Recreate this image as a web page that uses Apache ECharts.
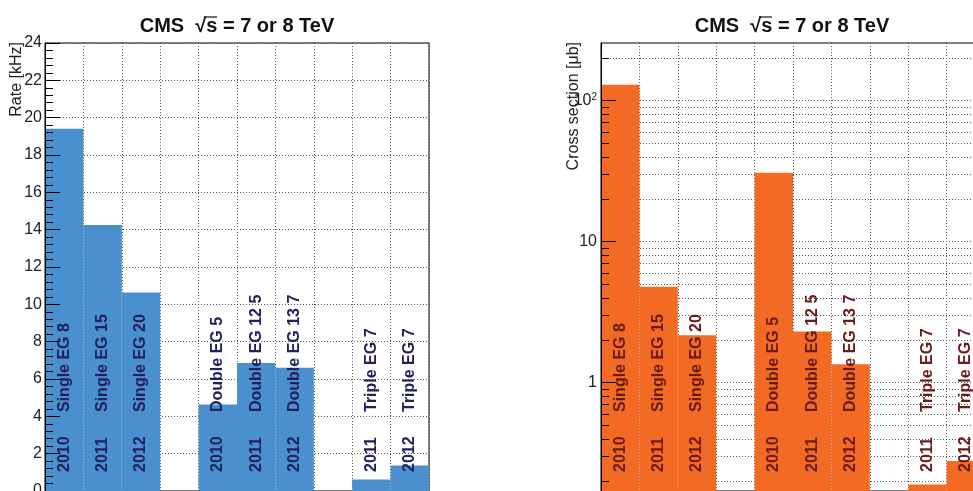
<!DOCTYPE html>
<html><head><meta charset="utf-8">
<script src="https://cdn.jsdelivr.net/npm/echarts@6/dist/echarts.min.js"></script>
<style>html,body{margin:0;padding:0;background:#fff}#c{width:973px;height:491px}</style>
</head><body><div id="c"></div>
<script>
const categories = ['Single EG 8 2010','Single EG 15 2011','Single EG 20 2012','gap1','Double EG 5 2010','Double EG 12 5 2011','Double EG 13 7 2012','gap2','Triple EG 7 2011','Triple EG 7 2012'];
const years = ['2010','2011','2012','','2010','2011','2012','','2011','2012'];
const triggers = ['Single EG 8','Single EG 15','Single EG 20','','Double EG 5','Double EG 12 5','Double EG 13 7','','Triple EG 7','Triple EG 7'];
const rates = [19.4, 14.25, 10.63, null, 4.64, 6.86, 6.6, null, 0.61, 1.36];
const xsecs = [129.8, 4.8, 2.17, null, 30.8, 2.31, 1.35, null, 0.19, 0.278];
const rateMin = 0, rateMax = 24, rateStep = 2;
const xsecMin = 0.1706, xsecMax = 256.5;
const xsecMajorTicks = [1, 10, 100];
const xsecMinorTicks = [0.2,0.3,0.4,0.5,0.6,0.7,0.8,0.9,2,3,4,5,6,7,8,9,20,30,40,50,60,70,80,90,200];
const titleText = 'CMS  \u221As = 7 or 8 TeV';

const FF = '"Liberation Sans", Arial, Helvetica, sans-serif';
const gridLine = {show: true, lineStyle: {color: '#555', width: 1, type: [1, 2]}};

function makeRender(fill, textColor, baseVal) {
  return function (params, api) {
    const v = api.value(1);
    if (v == null || isNaN(v)) return null;
    const i = api.value(0);
    const top = api.coord([i, v]);
    const base = api.coord([i, baseVal]);
    const w = api.size([1, 0])[0];
    const idx = params.dataIndex;
    const ts = {fill: textColor, fontSize: 16, fontWeight: 'bold', fontFamily: FF, align: 'left', verticalAlign: 'middle'};
    return {type: 'group', children: [
      {type: 'rect', shape: {x: top[0] - w / 2, y: top[1], width: w, height: base[1] - top[1]}, style: {fill: fill}},
      {type: 'text', x: base[0], y: base[1] - 19, rotation: Math.PI / 2, style: Object.assign({text: years[idx]}, ts)},
      {type: 'text', x: base[0], y: base[1] - 79, rotation: Math.PI / 2, style: Object.assign({text: triggers[idx]}, ts)}
    ]};
  };
}

const chart = echarts.init(document.getElementById('c'), null, {renderer: 'canvas'});
const hidden = {axisLine: {show: false}, axisTick: {show: false}, axisLabel: {show: false}, splitLine: {show: false}};

function titleGroup(cx) {
  return {type: 'group', x: cx, y: 26, z: 20, children: [
    {type: 'text', x: 0, y: 0, style: {text: titleText, fontSize: 20, fontWeight: 'bold', fontFamily: FF, fill: '#111', align: 'center', verticalAlign: 'middle'}},
    {type: 'line', shape: {x1: -33, y1: -9, x2: -20, y2: -9}, style: {stroke: '#111', lineWidth: 1.2}}
  ]};
}

chart.setOption({
  animation: false,
  backgroundColor: '#fff',
  grid: [
    {left: 45, top: 43, width: 384, bottom: 0, show: true, borderColor: '#000', borderWidth: 1, containLabel: false, outerBoundsMode: 'none'},
    {left: 601, top: 43, width: 384, bottom: 0, show: true, borderColor: '#000', borderWidth: 1, containLabel: false, outerBoundsMode: 'none'}
  ],
  xAxis: [
    Object.assign({}, hidden, {gridIndex: 0, type: 'category', data: categories, boundaryGap: true, splitLine: Object.assign({interval: 0}, gridLine)}),
    Object.assign({}, hidden, {gridIndex: 1, type: 'category', data: categories, boundaryGap: true, splitLine: Object.assign({interval: 0}, gridLine)})
  ],
  yAxis: [
    Object.assign({}, hidden, {gridIndex: 0, position: 'left', type: 'value', min: rateMin, max: rateMax, interval: rateStep, z: 0, splitLine: gridLine}),
    {gridIndex: 0, position: 'left', type: 'value', min: rateMin, max: rateMax, interval: rateStep, z: 10,
      axisLine: {show: true, lineStyle: {color: '#000', width: 1}},
      axisTick: {show: true, inside: true, length: 15, lineStyle: {color: '#000', width: 1}},
      minorTick: {show: true, splitNumber: 5, length: 8, lineStyle: {color: '#000', width: 1}},
      axisLabel: {margin: 3, fontSize: 16, color: '#222', fontFamily: FF},
      splitLine: {show: false}},
    Object.assign({}, hidden, {gridIndex: 1, position: 'left', type: 'log', min: xsecMin, max: xsecMax, z: 0,
      axisTick: {show: false, customValues: xsecMajorTicks.concat(xsecMinorTicks)}, splitLine: gridLine}),
    {gridIndex: 1, position: 'left', type: 'log', min: xsecMin, max: xsecMax, z: 10,
      axisLine: {show: true, lineStyle: {color: '#000', width: 1}},
      axisTick: {show: true, inside: true, length: 15, customValues: xsecMajorTicks, lineStyle: {color: '#000', width: 1}},
      axisLabel: {margin: 4, fontSize: 16, color: '#222', fontFamily: FF, customValues: xsecMajorTicks,
        formatter: function (v) { return v >= 99 ? '10{s|2}' : String(Math.round(v)); },
        rich: {s: {fontSize: 10, verticalAlign: 'top', fontFamily: FF, color: '#222'}}},
      splitLine: {show: false}},
    Object.assign({}, hidden, {gridIndex: 1, position: 'left', type: 'log', min: xsecMin, max: xsecMax, z: 10,
      axisTick: {show: true, inside: true, length: 8, customValues: xsecMinorTicks, lineStyle: {color: '#000', width: 1}}})
  ],
  series: [
    {type: 'custom', xAxisIndex: 0, yAxisIndex: 1, z: 2, encode: {x: 0, y: 1},
      data: rates.map(function (v, i) { return [i, v == null ? '-' : v]; }),
      renderItem: makeRender('#4a8fce', '#22215e', rateMin)},
    {type: 'custom', xAxisIndex: 1, yAxisIndex: 3, z: 2, encode: {x: 0, y: 1},
      data: xsecs.map(function (v, i) { return [i, v == null ? '-' : v]; }),
      renderItem: makeRender('#f26a23', '#6b1a1a', xsecMin)}
  ],
  graphic: [
    titleGroup(237),
    titleGroup(792),
    {type: 'text', x: 17, y: 42, rotation: Math.PI / 2, z: 20, style: {text: 'Rate [kHz]', fontSize: 16, fontFamily: FF, fill: '#222', align: 'right', verticalAlign: 'middle'}},
    {type: 'text', x: 574, y: 42, rotation: Math.PI / 2, z: 20, style: {text: 'Cross section [\u03BCb]', fontSize: 16, fontFamily: FF, fill: '#222', align: 'right', verticalAlign: 'middle'}}
  ]
});
</script></body></html>
